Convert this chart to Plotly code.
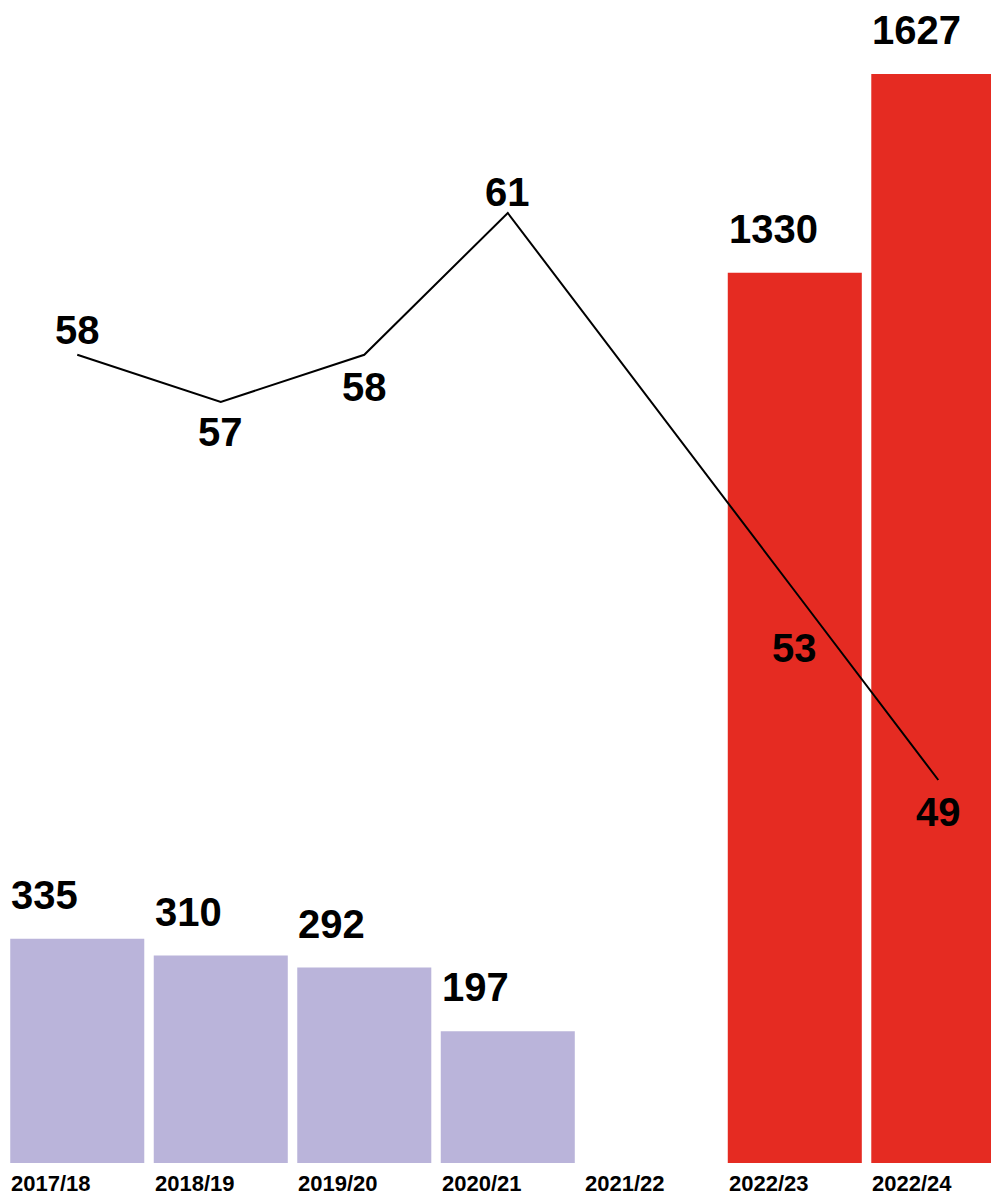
import plotly.graph_objects as go

categories = ["2017/18", "2018/19", "2019/20", "2020/21", "2021/22", "2022/23", "2022/24"]
bar_values = [335, 310, 292, 197, None, 1330, 1627]
bar_colors = ["#BAB4DA", "#BAB4DA", "#BAB4DA", "#BAB4DA", "#BAB4DA", "#E52B22", "#E52B22"]
line_values = [58, 57, 58, 61, None, 53, 49]
line_label_shift = [25, -30, -32, 21, 0, -57, -32]

FONT = "Liberation Sans"

fig = go.Figure()
fig.add_trace(go.Bar(x=categories, y=bar_values, marker=dict(color=bar_colors, line=dict(width=0)),
                     yaxis="y", hoverinfo="skip"))
fig.add_trace(go.Scatter(x=categories, y=line_values, mode="lines", connectgaps=True,
                         line=dict(color="black", width=2), yaxis="y2", hoverinfo="skip"))

half = 67
annotations = []
for c, v in zip(categories, bar_values):
    if v is not None:
        annotations.append(dict(x=c, y=v, xref="x", yref="y", text=str(v), showarrow=False,
                                xanchor="left", yanchor="middle", xshift=-half - 1, yshift=44,
                                font=dict(family=FONT, size=40, color="black", weight="bold")))
    annotations.append(dict(x=c, y=0, xref="x", yref="paper", text=c, showarrow=False,
                            xanchor="left", yanchor="middle", xshift=-half - 1, yshift=-20,
                            font=dict(family=FONT, size=22, color="black", weight="bold")))
for c, v, s in zip(categories, line_values, line_label_shift):
    if v is not None:
        annotations.append(dict(x=c, y=v, xref="x", yref="y2", text=str(v), showarrow=False,
                                xanchor="center", yanchor="middle", yshift=s,
                                font=dict(family=FONT, size=40, color="black", weight="bold")))

fig.update_layout(
    width=991, height=1188,
    margin=dict(l=0, r=0, t=0, b=33),
    paper_bgcolor="white", plot_bgcolor="white",
    showlegend=False, bargap=0.066,
    xaxis=dict(type="category", range=[-0.4826, 6.423], showticklabels=False, showgrid=False,
               zeroline=False, showline=False, ticks=""),
    yaxis=dict(range=[0, 1725.7], visible=False, showgrid=False, zeroline=False),
    yaxis2=dict(range=[40.894, 65.339], overlaying="y", visible=False, showgrid=False, zeroline=False),
    annotations=annotations,
)

fig.write_html("out.html")
